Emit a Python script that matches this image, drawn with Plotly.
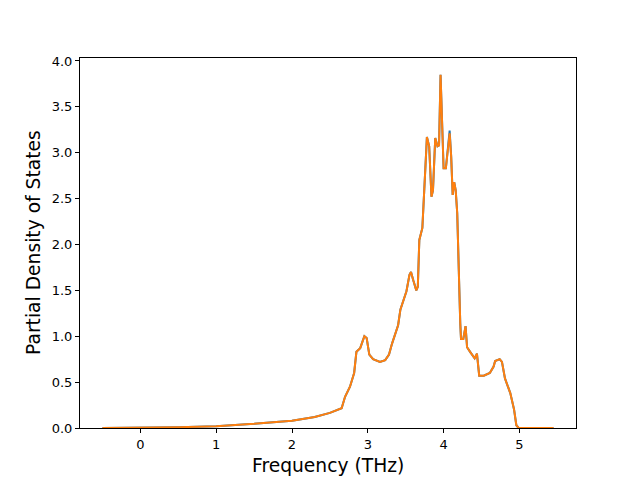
import plotly.graph_objects as go

freq = [-0.5, 0.0, 0.5, 1.0, 1.5, 2.0, 2.3, 2.5, 2.655, 2.70, 2.765, 2.82, 2.85, 2.90, 2.955, 2.985,
        3.02, 3.07, 3.16, 3.23, 3.28, 3.32, 3.38, 3.40, 3.43, 3.48, 3.51, 3.55, 3.57, 3.60, 3.64,
        3.66, 3.68, 3.72, 3.76, 3.78, 3.81, 3.84, 3.86, 3.89, 3.92, 3.94, 3.96, 3.98, 4.00, 4.03,
        4.06, 4.08, 4.10, 4.12, 4.14, 4.16, 4.18, 4.20, 4.22, 4.23, 4.26, 4.29, 4.31, 4.35, 4.41,
        4.44, 4.47, 4.53, 4.61, 4.66, 4.68, 4.74, 4.77, 4.81, 4.88, 4.93, 4.96, 4.99, 5.2, 5.45]

pdos_total = [0.0, 0.002, 0.008, 0.02, 0.045, 0.08, 0.12, 0.165, 0.215, 0.34, 0.45, 0.60, 0.83, 0.87, 1.0, 0.98,
              0.80, 0.75, 0.72, 0.74, 0.80, 0.92, 1.09, 1.12, 1.29, 1.41, 1.49, 1.67, 1.70, 1.61, 1.50,
              1.54, 2.05, 2.18, 2.96, 3.17, 3.07, 2.52, 2.59, 3.16, 3.07, 3.08, 3.85, 3.43, 2.83, 2.83,
              3.10, 3.24, 2.96, 2.54, 2.68, 2.59, 2.34, 1.61, 1.14, 0.97, 0.97, 1.11, 0.88, 0.83, 0.76,
              0.81, 0.57, 0.57, 0.60, 0.67, 0.73, 0.75, 0.72, 0.54, 0.38, 0.20, 0.03, 0.0, 0.0, 0.0]

pdos_atom = [0.0, 0.002, 0.008, 0.02, 0.045, 0.08, 0.12, 0.165, 0.215, 0.34, 0.45, 0.60, 0.83, 0.87, 1.0, 0.98,
             0.80, 0.75, 0.72, 0.74, 0.80, 0.92, 1.09, 1.12, 1.29, 1.41, 1.49, 1.67, 1.70, 1.61, 1.50,
             1.54, 2.05, 2.18, 2.96, 3.17, 3.07, 2.52, 2.59, 3.16, 3.07, 3.08, 3.85, 3.43, 2.83, 2.83,
             3.10, 3.21, 2.96, 2.54, 2.68, 2.59, 2.34, 1.61, 1.14, 0.97, 0.97, 1.11, 0.88, 0.83, 0.76,
             0.81, 0.57, 0.57, 0.60, 0.67, 0.73, 0.75, 0.72, 0.54, 0.38, 0.20, 0.03, 0.0, 0.0, 0.0]

x_ticks = [0, 1, 2, 3, 4, 5]
y_ticks = [0.0, 0.5, 1.0, 1.5, 2.0, 2.5, 3.0, 3.5, 4.0]

fig = go.Figure()
fig.add_trace(go.Scatter(x=freq, y=pdos_total, mode="lines",
                         line=dict(color="#1f77b4", width=2), showlegend=False))
fig.add_trace(go.Scatter(x=freq, y=pdos_atom, mode="lines",
                         line=dict(color="#ff7f0e", width=2), showlegend=False))

axis_common = dict(showline=True, mirror=True, linecolor="black", linewidth=1,
                   ticks="outside", ticklen=4, tickwidth=1, tickcolor="black",
                   showgrid=False, zeroline=False, automargin=False,
                   tickfont=dict(family="DejaVu Sans", size=13, color="black"))

title_font = dict(family="DejaVu Sans", size=18.7, color="black")

fig.update_layout(
    width=632, height=472,
    margin=dict(l=72, r=64, t=50, b=52),
    paper_bgcolor="white", plot_bgcolor="white",
    xaxis=dict(range=[-0.797, 5.747], tickvals=x_ticks, ticktext=[str(v) for v in x_ticks], **axis_common),
    yaxis=dict(range=[0, 4.032], tickvals=y_ticks, ticktext=[f"{v:.1f}" for v in y_ticks], **axis_common),
    annotations=[
        dict(text="Frequency (THz)", xref="paper", yref="paper", x=0.5, y=0,
             xanchor="center", yanchor="middle", yshift=-37, showarrow=False, font=title_font),
        dict(text="Partial Density of States", xref="paper", yref="paper", x=0, y=0.5,
             xanchor="center", yanchor="middle", xshift=-47, textangle=-90, showarrow=False, font=title_font),
    ],
)

fig.write_html("out.html")
